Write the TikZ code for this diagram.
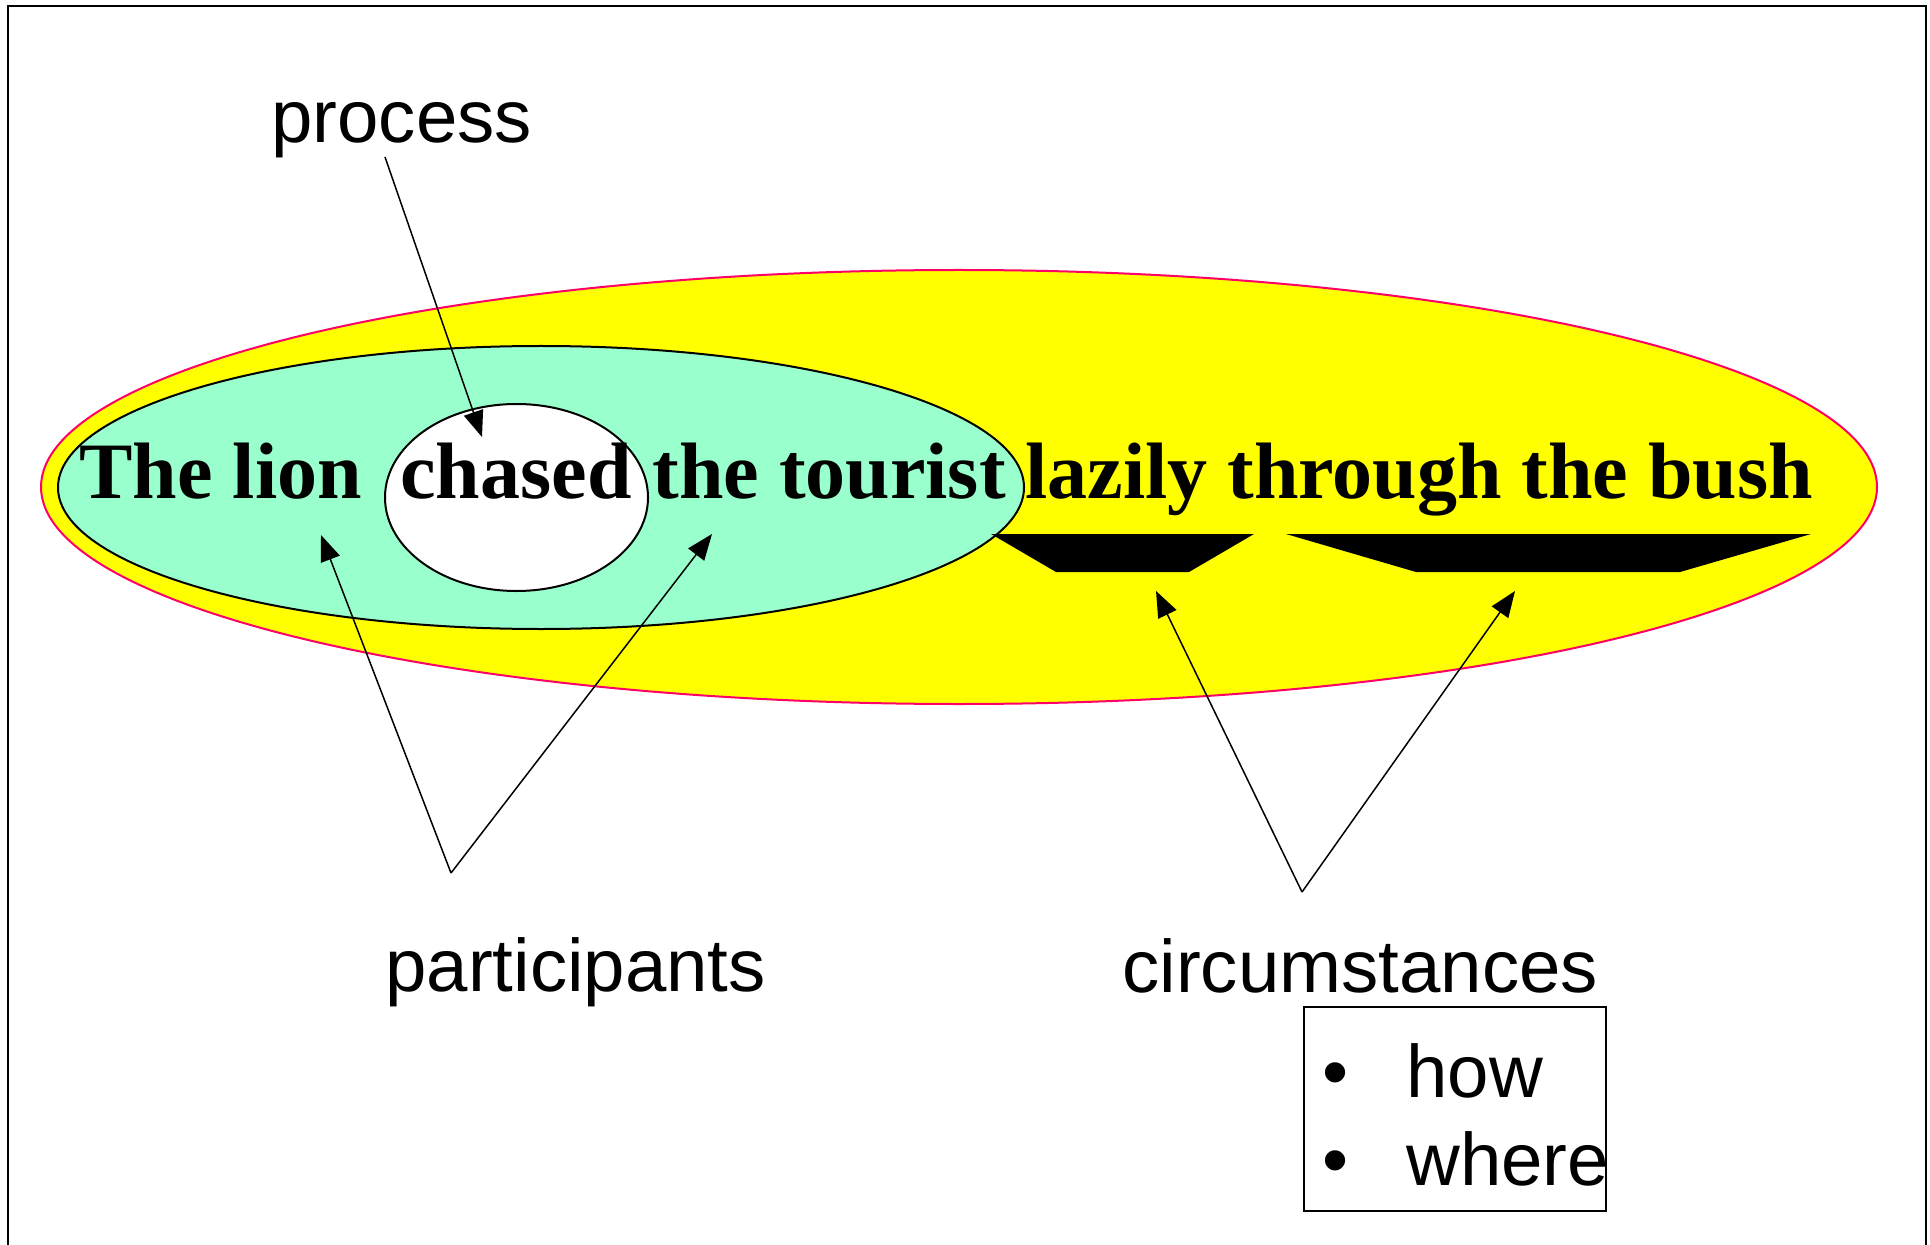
\documentclass[tikz,border=0pt]{standalone}
\usepackage{fontspec}
\setmainfont{Liberation Serif}
\setsansfont{Liberation Sans}
\usetikzlibrary{arrows.meta}
\definecolor{mint}{RGB}{153,255,204}
\definecolor{rim}{RGB}{255,0,102}
\definecolor{sun}{RGB}{255,255,0}
\tikzstyle{sentence} = [anchor=base west, inner sep=0pt, font=\fontsize{40}{48}\selectfont\bfseries]
\tikzstyle{tag} = [anchor=base west, inner sep=0pt, font=\sffamily\fontsize{37.2}{44}\selectfont]
\tikzstyle{arrow} = [line width=0.75pt,-{Triangle[length=13pt,width=10pt]}]

\begin{document}
\begin{tikzpicture}[x=0.5pt,y=-0.5pt]
\useasboundingbox (0,0) rectangle (1930,1245);
\draw [line width=1pt](8,1245) -- (8,6) -- (1926,6) -- (1926,1245);
% clause, participants and process
\draw [rim, fill=sun, line width=1pt](959,487) ellipse [x radius=918, y radius=217];
\draw [fill=mint, line width=1pt](541,487.5) ellipse [x radius=483, y radius=141.5];
\draw [fill=white, line width=1pt](516.5,497.5) ellipse [x radius=131.5, y radius=93.5];
% brackets
\fill (991,534) -- (1254,534) -- (1189,572) -- (1056,572) -- cycle;
\fill (1286,534) -- (1811,534) -- (1680,572) -- (1416,572) -- cycle;

\node (Lion)[sentence] at (79,498) {The lion};
\node (Chased)[sentence] at (400,498) {chased};
\node (Tourist)[sentence] at (652,498) {the tourist};
\node (Bush)[sentence] at (1025,498) {lazily through the bush};

\node (Proc)[tag] at (271,143) {process};
\node (Partic)[tag] at (385,991) {participants};
\node (Circum)[tag] at (1122,992) {circumstances};

\node (List)[draw, line width=1pt, anchor=north west, inner sep=0pt, minimum width=151pt, minimum height=102pt] at (1303,1006) {};
\node (DotHow)[tag, anchor=base] at (1336,1097) {•};
\node (How)[tag] at (1406,1097) {how};
\node (DotWhere)[tag, anchor=base] at (1336,1185) {•};
\node (Where)[tag] at (1406,1185) {where};

\coordinate (ProcStart) at (385,157);
\coordinate (ProcTip) at (482,437);
\coordinate (PartApex) at (451,873);
\coordinate (LionTip) at (321,535);
\coordinate (TouristTip) at (712,534);
\coordinate (CircApex) at (1302,892);
\coordinate (HowTip) at (1156,591);
\coordinate (WhereTip) at (1515,591);

\draw [arrow](ProcStart) -- (ProcTip);
\draw [arrow](PartApex) -- (LionTip);
\draw [arrow](PartApex) -- (TouristTip);
\draw [arrow](CircApex) -- (HowTip);
\draw [arrow](CircApex) -- (WhereTip);
\end{tikzpicture}
\end{document}
